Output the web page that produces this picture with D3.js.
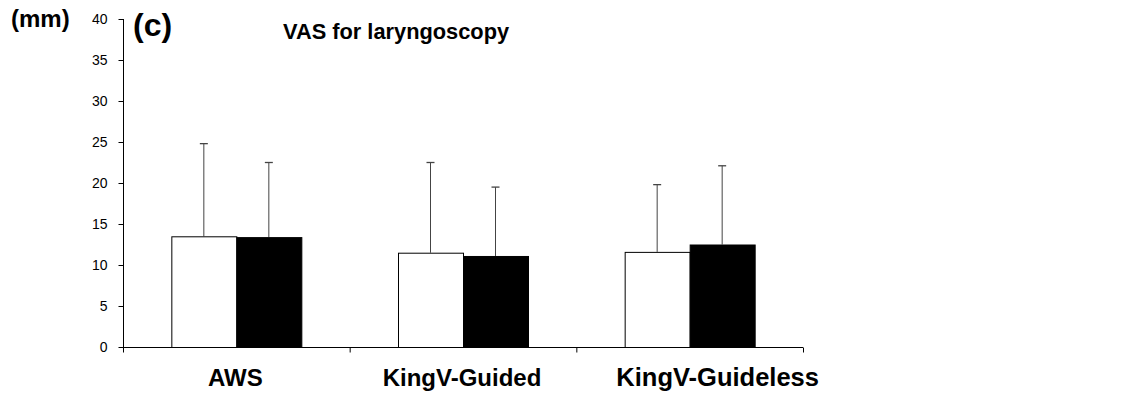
<!DOCTYPE html>
<html>
<head>
<meta charset="utf-8">
<script src="https://cdn.jsdelivr.net/npm/d3@7"></script>
<style>
  body { margin: 0; background: #fff; }
  svg { display: block; font-family: 'Liberation Sans', Arial, sans-serif; }
</style>
</head>
<body>
<div id="chart"></div>
<script>
// VAS for laryngoscopy, mean + SD (mm)
const categories = ['AWS', 'KingV-Guided', 'KingV-Guideless'];
const seriesNames = ['Group 1', 'Group 2'];
const meansGroup1 = [13.5, 11.5, 11.6];
const meansGroup2 = [13.4, 11.1, 12.5];
const sdGroup1 = [11.3, 11.0, 8.2];
const sdGroup2 = [9.1, 8.4, 9.6];
const yTicks = [0, 5, 10, 15, 20, 25, 30, 35, 40];

const width = 1121, height = 402;
const plot = { left: 123, right: 803, top: 19, bottom: 347 };
const barW = 65;
const fills = ['#fff', '#000'];

const svg = d3.select('#chart').append('svg')
  .attr('width', width)
  .attr('height', height);

const x = d3.scaleBand()
  .domain(categories)
  .range([plot.left, plot.right])
  .padding(0);

const xs = d3.scaleBand()
  .domain(seriesNames)
  .range([x.bandwidth() / 2 - barW, x.bandwidth() / 2 + barW]);

const y = d3.scaleLinear()
  .domain([0, 40])
  .range([plot.bottom, plot.top]);

// rows: one per bar
const rows = [];
categories.forEach((c, i) => {
  rows.push({ cat: c, s: seriesNames[0], mean: meansGroup1[i], sd: sdGroup1[i], k: 0 });
  rows.push({ cat: c, s: seriesNames[1], mean: meansGroup2[i], sd: sdGroup2[i], k: 1 });
});

const cx = d => x(d.cat) + xs(d.s) + xs.bandwidth() / 2;

// error bars (upper only) drawn first so bars sit over their root
const err = svg.append('g');
err.selectAll('line.stem')
  .data(rows)
  .enter()
  .append('line')
  .attr('class', 'stem')
  .attr('x1', cx)
  .attr('x2', cx)
  .attr('y1', d => y(d.mean))
  .attr('y2', d => y(d.mean + d.sd))
  .attr('stroke', '#444')
  .attr('stroke-width', 1);
err.selectAll('line.cap')
  .data(rows)
  .enter()
  .append('line')
  .attr('class', 'cap')
  .attr('x1', d => cx(d) - 4)
  .attr('x2', d => cx(d) + 4)
  .attr('y1', d => y(d.mean + d.sd))
  .attr('y2', d => y(d.mean + d.sd))
  .attr('stroke', '#444')
  .attr('stroke-width', 1.3);

// bars
svg.append('g')
  .selectAll('rect')
  .data(rows)
  .enter()
  .append('rect')
  .attr('x', d => x(d.cat) + xs(d.s) + 0.5)
  .attr('y', d => y(d.mean) + 0.5)
  .attr('width', xs.bandwidth())
  .attr('height', d => y(0) - y(d.mean))
  .attr('fill', d => fills[d.k])
  .attr('stroke', '#000')
  .attr('stroke-width', 1);

// y axis
const yAxis = svg.append('g')
  .attr('transform', `translate(${plot.left + 0.5},0)`)
  .call(d3.axisLeft(y).tickValues(yTicks).tickSize(5).tickPadding(11));
yAxis.select('.domain').attr('d', `M0,${plot.top}V${plot.bottom}`);
yAxis.selectAll('text').attr('font-size', 14).attr('fill', '#000')
  .style('font-family', 'Liberation Sans, Arial, sans-serif');

// x axis, ticks at category boundaries
const xAxisG = svg.append('g')
  .attr('transform', `translate(0,${plot.bottom + 0.5})`);
xAxisG.append('line')
  .attr('x1', plot.left).attr('x2', plot.right)
  .attr('stroke', '#000');
xAxisG.selectAll('line.tick')
  .data(categories.map(c => x(c)).concat([plot.right]))
  .enter()
  .append('line')
  .attr('class', 'tick')
  .attr('x1', d => d + 0.5).attr('x2', d => d + 0.5)
  .attr('y1', 0).attr('y2', 5)
  .attr('stroke', '#000');
// the last label sits a bit right of its band centre in the original
xAxisG.selectAll('text')
  .data(categories)
  .enter()
  .append('text')
  .attr('x', (d, i) => x(d) + x.bandwidth() / 2 + (i === categories.length - 1 ? 28 : -1))
  .attr('y', 38)
  .attr('text-anchor', 'middle')
  .attr('font-size', (d, i) => i === categories.length - 1 ? 25.5 : 24)
  .attr('font-weight', 'bold')
  .text(d => d);

// labels
svg.append('text')
  .attr('x', 11).attr('y', 27)
  .attr('font-size', 24).attr('font-weight', 'bold')
  .text('(mm)');
svg.append('text')
  .attr('x', 133).attr('y', 36)
  .attr('font-size', 32).attr('font-weight', 'bold')
  .text('(c)');
svg.append('text')
  .attr('x', 283).attr('y', 39)
  .attr('font-size', 21.8).attr('font-weight', 'bold')
  .text('VAS for laryngoscopy');
</script>
</body>
</html>
